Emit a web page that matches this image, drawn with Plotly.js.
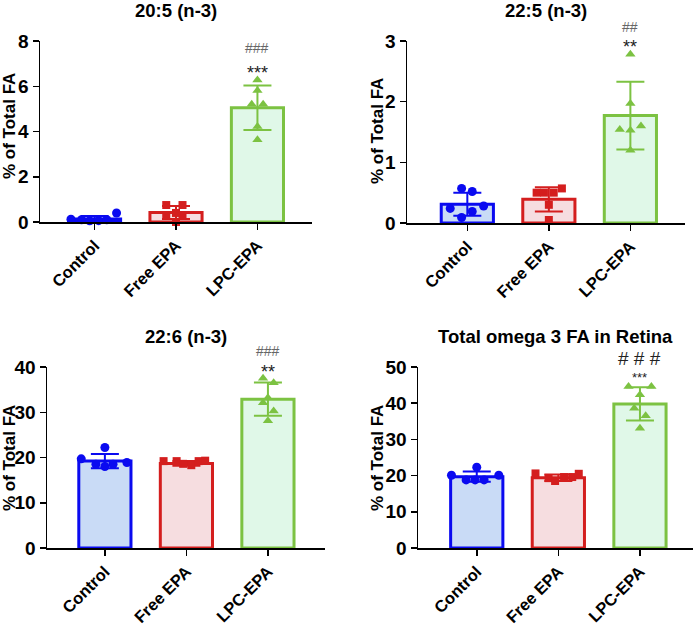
<!DOCTYPE html>
<html>
<head>
<meta charset="utf-8">
<script src="https://cdn.plot.ly/plotly-3.0.1.min.js"></script>
<style>html,body{margin:0;padding:0;background:#fff;}#chart{width:697px;height:625px;}</style>
</head>
<body>
<div id="chart"></div>
<script>
// ---- data ----
const categories = ["Control", "Free EPA", "LPC-EPA"];
const panelTitles = ["20:5 (n-3)", "22:5 (n-3)", "22:6 (n-3)", "Total omega 3 FA in Retina"];
const yTitle = "% of Total FA";

// panel 1: 20:5 (n-3)
const p1Mean = [0.13, 0.42, 5.05];
const p1SD = [0.14, 0.29, 0.98];
const p1Control = [0.12, 0.10, 0.05, 0.06, 0.10, 0.40];
const p1ControlOff = [-0.29, -0.16, -0.06, 0.05, 0.15, 0.27];
const p1Free = [0.75, 0.75, 0.30, 0.30, 0.40, 0.00];
const p1FreeOff = [-0.12, 0.08, -0.12, 0.08, 0.0, 0.0];
const p1LPC = [6.28, 5.81, 5.20, 5.20, 4.22, 3.63];
const p1LPCOff = [0.0, 0.0, -0.07, 0.07, 0.0, 0.0];

// panel 2: 22:5 (n-3)
const p2Mean = [0.31, 0.39, 1.77];
const p2SD = [0.19, 0.20, 0.56];
const p2Control = [0.57, 0.52, 0.28, 0.24, 0.19, 0.09];
const p2ControlOff = [-0.07, 0.06, 0.20, -0.21, 0.06, -0.07];
const p2Free = [0.50, 0.50, 0.50, 0.57, 0.30, 0.05];
const p2FreeOff = [-0.15, -0.06, 0.06, 0.16, 0.0, 0.0];
const p2LPC = [2.78, 1.97, 1.60, 1.54, 1.53, 1.20];
const p2LPCOff = [0.0, 0.0, 0.13, -0.13, 0.0, 0.0];

// panel 3: 22:6 (n-3)
const p3Mean = [19.2, 18.7, 32.9];
const p3SD = [1.6, 0.5, 3.7];
const p3Control = [19.7, 18.5, 18.0, 18.5, 18.9, 22.2];
const p3ControlOff = [-0.29, -0.11, 0.0, 0.10, 0.27, 0.0];
const p3Free = [19.2, 19.2, 18.6, 18.3, 19.2, 19.3];
const p3FreeOff = [-0.28, -0.12, -0.04, 0.06, 0.15, 0.23];
const p3LPC = [37.5, 36.5, 33.2, 32.1, 30.3, 28.1];
const p3LPCOff = [-0.06, 0.07, 0.0, -0.06, 0.07, 0.0];

// panel 4: Total omega 3 FA in Retina
const p4Mean = [19.7, 19.4, 39.8];
const p4SD = [1.4, 0.9, 4.6];
const p4Control = [22.3, 20.1, 20.1, 18.8, 18.8, 18.8];
const p4ControlOff = [0.0, -0.31, 0.27, -0.13, -0.02, 0.09];
const p4Free = [20.6, 19.3, 18.5, 19.6, 19.6, 20.5];
const p4FreeOff = [-0.28, -0.12, -0.04, 0.07, 0.17, 0.25];
const p4LPC = [44.6, 44.6, 42.3, 38.6, 36.5, 33.1];
const p4LPCOff = [-0.14, 0.14, 0.0, -0.07, 0.07, 0.0];

const yMax = [8, 3, 40, 50];
const yDtick = [2, 1, 10, 10];
const starText = ["***", "**", "**", "***"];
const starY = [6.6, 2.9, 39.0, 47.0];
const hashText = ["###", "##", "###", "# # #"];
const hashY = [7.7, 3.23, 43.6, 52.4];

// ---- styling ----
const edge = ["#0a0af0", "#d41e1e", "#7cc242"];
const fill = ["#c9dbf6", "#f6dde0", "#e0f8e8"];
const symbols = ["circle", "square", "triangle-up"];
const W = 697, H = 625;
const FONT = "Arial, 'Liberation Sans', sans-serif";

// plot-area pixel boxes [left, right, top, bottom]
const boxes = [[40, 312, 41, 222], [407, 685, 41, 223], [47, 325, 367, 548], [418, 693, 367, 548]];
const xRanges = [[-0.67, 2.67], [-0.74, 2.67], [-0.71, 2.70], [-0.72, 2.65]];
const yTitlePos = [[9, 126], [377, 131], [9, 458], [377, 458]];

const panels = [
  {mean: p1Mean, sd: p1SD, pts: [p1Control, p1Free, p1LPC], off: [p1ControlOff, p1FreeOff, p1LPCOff]},
  {mean: p2Mean, sd: p2SD, pts: [p2Control, p2Free, p2LPC], off: [p2ControlOff, p2FreeOff, p2LPCOff]},
  {mean: p3Mean, sd: p3SD, pts: [p3Control, p3Free, p3LPC], off: [p3ControlOff, p3FreeOff, p3LPCOff]},
  {mean: p4Mean, sd: p4SD, pts: [p4Control, p4Free, p4LPC], off: [p4ControlOff, p4FreeOff, p4LPCOff]}
];

const traces = [];
const layout = {
  width: W, height: H,
  margin: {l: 0, r: 0, t: 0, b: 0},
  paper_bgcolor: "#ffffff", plot_bgcolor: "#ffffff",
  showlegend: false,
  font: {family: FONT, color: "#000"},
  annotations: []
};

panels.forEach((p, i) => {
  const n = i + 1;
  const xa = n === 1 ? "x" : "x" + n;
  const ya = n === 1 ? "y" : "y" + n;
  const xIdx = categories.map((c, k) => k);
  traces.push({
    type: "bar", x: xIdx, y: p.mean, width: 0.64,
    xaxis: xa, yaxis: ya,
    marker: {color: fill, line: {color: edge, width: 3}},
    hoverinfo: "skip"
  });
  categories.forEach((c, k) => {
    traces.push({
      type: "scatter", mode: "markers", x: [k], y: [p.mean[k]],
      xaxis: xa, yaxis: ya, cliponaxis: false,
      marker: {size: 1, color: "rgba(0,0,0,0)"},
      error_y: {type: "data", array: [p.sd[k]], visible: true, color: edge[k], thickness: 2, width: 14},
      hoverinfo: "skip"
    });
  });
  categories.forEach((c, k) => {
    traces.push({
      type: "scatter", mode: "markers",
      x: p.pts[k].map((v, j) => k + p.off[k][j]), y: p.pts[k],
      xaxis: xa, yaxis: ya, cliponaxis: false,
      marker: {symbol: symbols[k], color: edge[k], size: k === 1 ? 8 : 9, line: {width: 0}},
      hoverinfo: "skip"
    });
  });

  const b = boxes[i];
  const yd = [1 - b[3] / H, 1 - b[2] / H];
  layout["xaxis" + (n === 1 ? "" : n)] = {
    domain: [b[0] / W, b[1] / W], anchor: ya,
    range: xRanges[i], tickvals: xIdx, ticktext: categories,
    tickangle: -45, ticks: "outside", ticklen: 6, tickwidth: 1.5, tickcolor: "#000",
    showline: true, linecolor: "#000", linewidth: 1.5,
    showgrid: false, zeroline: false, fixedrange: true,
    tickfont: {family: FONT, size: 16.5, weight: "bold", color: "#000"}
  };
  layout["yaxis" + (n === 1 ? "" : n)] = {
    domain: yd, anchor: xa,
    range: [0, yMax[i]], dtick: yDtick[i], tick0: 0,
    ticks: "outside", ticklen: 6, tickwidth: 1.5, tickcolor: "#000",
    showline: true, linecolor: "#000", linewidth: 1.5,
    showgrid: false, zeroline: false, fixedrange: true,
    tickfont: {family: FONT, size: 19, weight: "bold", color: "#000"}
  };
  const xPaperLPC = (b[0] + (2 - xRanges[i][0]) / (xRanges[i][1] - xRanges[i][0]) * (b[1] - b[0])) / W;
  const toPaperY = v => yd[0] + v / yMax[i] * (yd[1] - yd[0]);
  layout.annotations.push({
    text: panelTitles[i], xref: "paper", yref: "paper",
    x: (b[0] + b[1]) / 2 / W, y: 1 - (b[2] - 31) / H,
    xanchor: "center", yanchor: "middle", showarrow: false,
    font: {family: FONT, size: 18.5, weight: "bold", color: "#000"}
  });
  layout.annotations.push({
    text: yTitle, xref: "paper", yref: "paper",
    x: yTitlePos[i][0] / W, y: 1 - yTitlePos[i][1] / H,
    xanchor: "center", yanchor: "middle", textangle: -90, showarrow: false,
    font: {family: FONT, size: 17, weight: "bold", color: "#000"}
  });
  layout.annotations.push({
    text: starText[i], xref: "paper", yref: "paper", x: xPaperLPC, y: toPaperY(starY[i]),
    xanchor: "center", yanchor: "middle", showarrow: false,
    font: {family: FONT, size: i === 3 ? 13 : 18, color: "#222"}
  });
  layout.annotations.push({
    text: hashText[i], xref: "paper", yref: "paper", x: xPaperLPC, y: toPaperY(hashY[i]),
    xanchor: "center", yanchor: "middle", showarrow: false,
    font: {family: FONT, size: i === 3 ? 19 : 14, color: i === 3 ? "#222" : "#666"}
  });
});

Plotly.newPlot("chart", traces, layout, {displayModeBar: false, staticPlot: true});
</script>
</body>
</html>
